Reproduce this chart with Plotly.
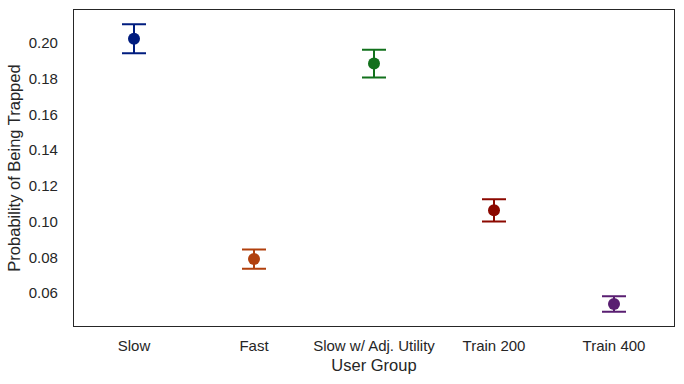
import plotly.graph_objects as go

groups = ["Slow", "Fast", "Slow w/ Adj. Utility", "Train 200", "Train 400"]
means = [0.2024, 0.0790, 0.1885, 0.1063, 0.0538]
errors = [0.0081, 0.0054, 0.0078, 0.0062, 0.0043]
colors = ["#001c7f", "#b1400d", "#12711c", "#8c0800", "#591e71"]

fig = go.Figure()
for g, m, e, c in zip(groups, means, errors, colors):
    fig.add_trace(go.Scatter(
        x=[g], y=[m], mode="markers",
        marker=dict(color=c, size=12),
        error_y=dict(type="data", array=[e], color=c, thickness=2, width=12),
        showlegend=False,
    ))

fig.update_layout(
    width=684, height=384,
    margin=dict(l=74, r=10, t=10, b=58),
    plot_bgcolor="white", paper_bgcolor="white",
    font=dict(family="Liberation Sans, Arial", size=15, color="#262626"),
)
fig.update_xaxes(
    title=dict(text="User Group", font=dict(size=16.5), standoff=6),
    range=[-0.5, 4.5], showgrid=False, zeroline=False, automargin=False,
    showline=True, linecolor="#262626", linewidth=1.25, mirror=True,
    ticks="", ticklabelstandoff=6,
)
fig.update_yaxes(
    title=dict(text="Probability of Being Trapped", font=dict(size=16.5), standoff=3),
    range=[0.0415, 0.2185], showgrid=False, zeroline=False, automargin=False,
    tickvals=[0.06, 0.08, 0.10, 0.12, 0.14, 0.16, 0.18, 0.20],
    tickformat=".2f",
    showline=True, linecolor="#262626", linewidth=1.25, mirror=True,
    ticks="", ticklabelstandoff=12,
)
fig.write_html(
    "out.html",
    config={"displayModeBar": False},
    post_script="document.body.style.margin='0';document.body.style.overflow='hidden';",
)
